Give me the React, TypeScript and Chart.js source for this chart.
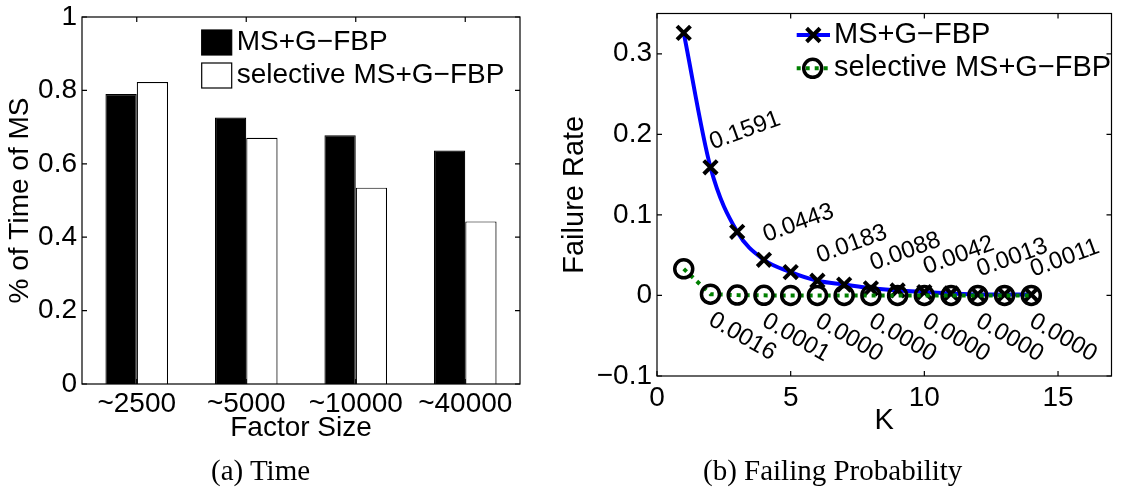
import React, { useEffect, useRef } from 'react';
import { Chart, registerables } from 'chart.js';

Chart.register(...registerables);

// ---------- data: (a) Time ----------
const categories = ['~2500', '~5000', '~10000', '~40000'];
const msgfbpTime = [0.79, 0.726, 0.678, 0.636];
const selectiveTime = [0.823, 0.671, 0.535, 0.443];
const timeTicks = [0, 0.2, 0.4, 0.6, 0.8, 1];

// ---------- data: (b) Failing Probability ----------
const kValues = [1, 2, 3, 4, 5, 6, 7, 8, 9, 10, 11, 12, 13, 14];
const msgfbpFail = [0.326, 0.1591, 0.079, 0.0443, 0.029, 0.0183, 0.0135, 0.0088, 0.0062, 0.0042, 0.0025, 0.0013, 0.0012, 0.0011];
const selectiveFail = [0.033, 0.0016, 0.0004, 0.0001, 0, 0, 0, 0, 0, 0, 0, 0, 0, 0];
const labelK = [2, 4, 6, 8, 10, 12, 14];
const kTicks = [0, 5, 10, 15];
const failTicks = [-0.1, 0, 0.1, 0.2, 0.3];

const seriesNames = ['MS+G\u2212FBP', 'selective MS+G\u2212FBP'];

const SANS = "'Liberation Sans', Arial, Helvetica, sans-serif";
const SERIF = "'Liberation Serif', 'Times New Roman', serif";

const fmt = (v: number) => (v < 0 ? '\u2212' + String(Math.abs(v)) : String(Math.round(v * 1000) / 1000));

const framePlugin = {
  id: 'frame',
  afterDraw(chart: any) {
    const { ctx, chartArea: a } = chart;
    const xs = chart.scales.x;
    const ys = chart.scales.y;
    ctx.save();
    ctx.strokeStyle = '#000';
    ctx.lineWidth = 1.2;
    ctx.strokeRect(a.left, a.top, a.right - a.left, a.bottom - a.top);
    const tl = 5;
    ctx.beginPath();
    ys.ticks.forEach((t: any) => {
      const p = ys.getPixelForValue(t.value);
      ctx.moveTo(a.left, p); ctx.lineTo(a.left + tl, p);
      ctx.moveTo(a.right, p); ctx.lineTo(a.right - tl, p);
    });
    xs.ticks.forEach((_t: any, i: number) => {
      const p = xs.getPixelForTick(i);
      ctx.moveTo(p, a.bottom); ctx.lineTo(p, a.bottom - tl);
      ctx.moveTo(p, a.top); ctx.lineTo(p, a.top + tl);
    });
    ctx.stroke();
    ctx.restore();
  },
};

const barLegendPlugin = {
  id: 'barLegend',
  afterDraw(chart: any) {
    const { ctx } = chart;
    const ds = chart.data.datasets;
    ctx.save();
    const rows = [42.5, 75.5];
    rows.forEach((cy, i) => {
      ctx.fillStyle = ds[i].backgroundColor;
      ctx.fillRect(201.7, cy - 12.5, 30, 25);
      ctx.strokeStyle = '#000';
      ctx.lineWidth = 1.2;
      ctx.strokeRect(201.7, cy - 12.5, 30, 25);
      ctx.fillStyle = '#000';
      ctx.font = `28px ${SANS}`;
      ctx.textAlign = 'left';
      ctx.textBaseline = 'middle';
      ctx.fillText(ds[i].label, 236.7, cy);
    });
    ctx.restore();
  },
};

const lineLegendPlugin = {
  id: 'lineLegend',
  afterDraw(chart: any) {
    const { ctx } = chart;
    const ds = chart.data.datasets;
    ctx.save();
    // row 1
    let y = 35;
    ctx.strokeStyle = ds[0].borderColor;
    ctx.lineWidth = 4;
    ctx.beginPath(); ctx.moveTo(236.7, y); ctx.lineTo(270, y); ctx.stroke();
    const r = 9.5 * Math.cos(Math.PI / 4);
    const cx = 253.3;
    ctx.strokeStyle = '#000';
    ctx.lineWidth = 4;
    ctx.beginPath();
    ctx.moveTo(cx - r, y - r); ctx.lineTo(cx + r, y + r);
    ctx.moveTo(cx - r, y + r); ctx.lineTo(cx + r, y - r);
    ctx.stroke();
    ctx.fillStyle = '#000';
    ctx.font = `29px ${SANS}`;
    ctx.textAlign = 'left';
    ctx.textBaseline = 'middle';
    ctx.fillText(ds[0].label, 274, y);
    // row 2
    y = 68.3;
    ctx.strokeStyle = ds[1].borderColor;
    ctx.setLineDash([4, 5]);
    ctx.beginPath(); ctx.moveTo(236.7, y); ctx.lineTo(270, y); ctx.stroke();
    ctx.setLineDash([]);
    ctx.strokeStyle = '#000';
    ctx.lineWidth = 3.5;
    ctx.beginPath(); ctx.arc(252.7, y, 9, 0, Math.PI * 2); ctx.stroke();
    ctx.fillText(ds[1].label, 274, y);
    ctx.restore();
  },
};

const annotationPlugin = {
  id: 'valueLabels',
  afterDraw(chart: any) {
    const { ctx } = chart;
    const xs = chart.scales.x;
    const ys = chart.scales.y;
    ctx.save();
    ctx.fillStyle = '#000';
    ctx.font = `24px ${SANS}`;
    ctx.textAlign = 'left';
    ctx.textBaseline = 'middle';
    labelK.forEach((k) => {
      const i = kValues.indexOf(k);
      const px = xs.getPixelForValue(k);
      const pu = ys.getPixelForValue(msgfbpFail[i]) - 24;
      ctx.save();
      ctx.translate(px, pu);
      ctx.rotate((-20 * Math.PI) / 180);
      ctx.fillText(msgfbpFail[i].toFixed(4), 0, 0);
      ctx.restore();
      const pl = ys.getPixelForValue(selectiveFail[i]) + 24;
      ctx.save();
      ctx.translate(px, pl);
      ctx.rotate((30 * Math.PI) / 180);
      ctx.fillText(selectiveFail[i].toFixed(4), 0, 0);
      ctx.restore();
    });
    ctx.restore();
  },
};

function BarChart() {
  const ref = useRef<HTMLCanvasElement>(null);
  useEffect(() => {
    const chart = new Chart(ref.current as HTMLCanvasElement, {
      type: 'bar',
      data: {
        labels: categories,
        datasets: [
          { label: seriesNames[0], data: msgfbpTime, backgroundColor: '#000000', borderColor: '#000', borderWidth: 1.2, categoryPercentage: 0.572, barPercentage: 1 },
          { label: seriesNames[1], data: selectiveTime, backgroundColor: '#ffffff', borderColor: '#000', borderWidth: 1.2, categoryPercentage: 0.572, barPercentage: 1 },
        ],
      },
      options: {
        responsive: false,
        animation: false,
        devicePixelRatio: 1,
        layout: { padding: { left: 0, right: 40, top: 17, bottom: 48 } },
        plugins: { legend: { display: false }, tooltip: { enabled: false } },
        scales: {
          x: {
            grid: { display: false, drawTicks: false },
            border: { display: false },
            ticks: { font: { family: SANS, size: 28 }, color: '#000', padding: 3, maxRotation: 0, autoSkip: false },
            title: { display: true, text: 'Factor Size', color: '#000', font: { family: SANS, size: 28, lineHeight: 1 }, padding: 0 },
            afterFit: (s: any) => { s.height = 58; s.paddingLeft = 0; s.paddingRight = 0; },
          },
          y: {
            min: 0,
            max: 1,
            grid: { display: false, drawTicks: false },
            border: { display: false },
            afterBuildTicks: (s: any) => { s.ticks = timeTicks.map((v) => ({ value: v })); },
            ticks: { font: { family: SANS, size: 28 }, color: '#000', padding: 5, callback: (v: any) => fmt(Number(v)) },
            title: { display: true, text: '% of Time of MS', color: '#000', font: { family: SANS, size: 28, lineHeight: 1 }, padding: { top: 6.5, bottom: 0 } },
            afterFit: (s: any) => { s.width = 82; s.paddingTop = 0; s.paddingBottom = 0; },
          },
        },
      },
      plugins: [framePlugin, barLegendPlugin],
    } as any);
    return () => chart.destroy();
  }, []);
  return <canvas ref={ref} width={560} height={490} style={{ position: 'absolute', left: 0, top: 0 }} />;
}

function LineChart() {
  const ref = useRef<HTMLCanvasElement>(null);
  useEffect(() => {
    const chart = new Chart(ref.current as HTMLCanvasElement, {
      type: 'line',
      data: {
        datasets: [
          {
            label: seriesNames[0],
            data: kValues.map((k, i) => ({ x: k, y: msgfbpFail[i] })),
            borderColor: '#0000ff',
            borderWidth: 4,
            cubicInterpolationMode: 'monotone',
            pointStyle: 'crossRot',
            pointRadius: 9.5,
            pointBorderWidth: 4,
            pointBorderColor: '#000',
            pointBackgroundColor: '#000',
            fill: false,
            order: 1,
          },
          {
            label: seriesNames[1],
            data: kValues.map((k, i) => ({ x: k, y: selectiveFail[i] })),
            borderColor: '#008000',
            borderWidth: 4,
            borderDash: [4, 5],
            tension: 0,
            pointStyle: 'circle',
            pointRadius: 9,
            pointBorderWidth: 3.5,
            pointBorderColor: '#000',
            pointBackgroundColor: 'rgba(0,0,0,0)',
            fill: false,
            order: 0,
          },
        ],
      },
      options: {
        responsive: false,
        animation: false,
        devicePixelRatio: 1,
        layout: { padding: { left: 0, right: 12, top: 9, bottom: 55 } },
        plugins: { legend: { display: false }, tooltip: { enabled: false } },
        scales: {
          x: {
            type: 'linear',
            min: 0,
            max: 17,
            grid: { display: false, drawTicks: false },
            border: { display: false },
            afterBuildTicks: (s: any) => { s.ticks = kTicks.map((v) => ({ value: v })); },
            ticks: { font: { family: SANS, size: 28 }, color: '#000', padding: 5, maxRotation: 0, callback: (v: any) => fmt(Number(v)) },
            title: { display: true, text: 'K', color: '#000', font: { family: SANS, size: 29, lineHeight: 1 }, padding: 0 },
            afterFit: (s: any) => { s.height = 59; s.paddingLeft = 0; s.paddingRight = 0; },
          },
          y: {
            min: -0.1,
            max: 0.35,
            grid: { display: false, drawTicks: false },
            border: { display: false },
            afterBuildTicks: (s: any) => { s.ticks = failTicks.map((v) => ({ value: v })); },
            ticks: { font: { family: SANS, size: 28 }, color: '#000', padding: 5, callback: (v: any) => fmt(Number(v)) },
            title: { display: true, text: 'Failure Rate', color: '#000', font: { family: SANS, size: 29, lineHeight: 1 }, padding: { top: 0, bottom: 0 } },
            afterFit: (s: any) => { s.width = 97; s.paddingTop = 0; s.paddingBottom = 0; },
          },
        },
      },
      plugins: [framePlugin, annotationPlugin, lineLegendPlugin],
    } as any);
    return () => chart.destroy();
  }, []);
  return <canvas ref={ref} width={565} height={490} style={{ position: 'absolute', left: 560, top: 0 }} />;
}

const captionStyle: React.CSSProperties = {
  position: 'absolute',
  top: 456,
  fontFamily: SERIF,
  fontSize: 29,
  lineHeight: '29px',
  color: '#000',
  whiteSpace: 'nowrap',
};

export default function App() {
  return (
    <div style={{ position: 'fixed', left: 0, top: 0, width: 1125, height: 490, background: '#fff', overflow: 'hidden' }}>
      <BarChart />
      <LineChart />
      <div style={{ ...captionStyle, left: 211 }}>(a) Time</div>
      <div style={{ ...captionStyle, left: 703 }}>(b) Failing Probability</div>
    </div>
  );
}
